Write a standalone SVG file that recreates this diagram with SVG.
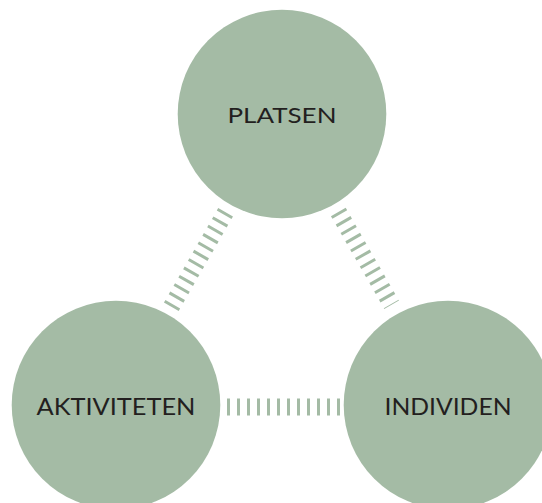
<svg xmlns="http://www.w3.org/2000/svg" width="542" height="503" viewBox="0 0 542 503">
  <style>
    .node { fill: #a4bba5; }
    .label { font-family: Lato, "Open Sans", "Liberation Sans", sans-serif; font-weight: 400; fill: #231f20; text-anchor: middle; dominant-baseline: central; }
    .link { stroke: #a4bba5; stroke-width: 17; fill: none; }
  </style>
  <rect width="542" height="503" fill="#ffffff"/>

  <g id="connectors">
    <line class="link" x1="171.3" y1="306.8" x2="225.6" y2="212.3" stroke-dasharray="3 6.64"/>
    <line class="link" x1="338.3" y1="212" x2="391.6" y2="304.7" stroke-dasharray="3 6.64"/>
    <line class="link" x1="227" y1="407" x2="340" y2="407" stroke-dasharray="3 7"/>
  </g>

  <g id="platsen">
    <circle class="node" cx="282" cy="114" r="104.3"/>
    <text class="label" x="282" y="114.5" font-size="22" textLength="109" lengthAdjust="spacingAndGlyphs">PLATSEN</text>
  </g>

  <g id="aktiviteten">
    <circle class="node" cx="116" cy="405" r="104.3"/>
    <text class="label" x="116" y="405" font-size="24" textLength="159" lengthAdjust="spacingAndGlyphs">AKTIVITETEN</text>
  </g>

  <g id="individen">
    <circle class="node" cx="448" cy="405" r="104.3"/>
    <text class="label" x="448" y="405" font-size="24" textLength="127" lengthAdjust="spacingAndGlyphs">INDIVIDEN</text>
  </g>
</svg>
